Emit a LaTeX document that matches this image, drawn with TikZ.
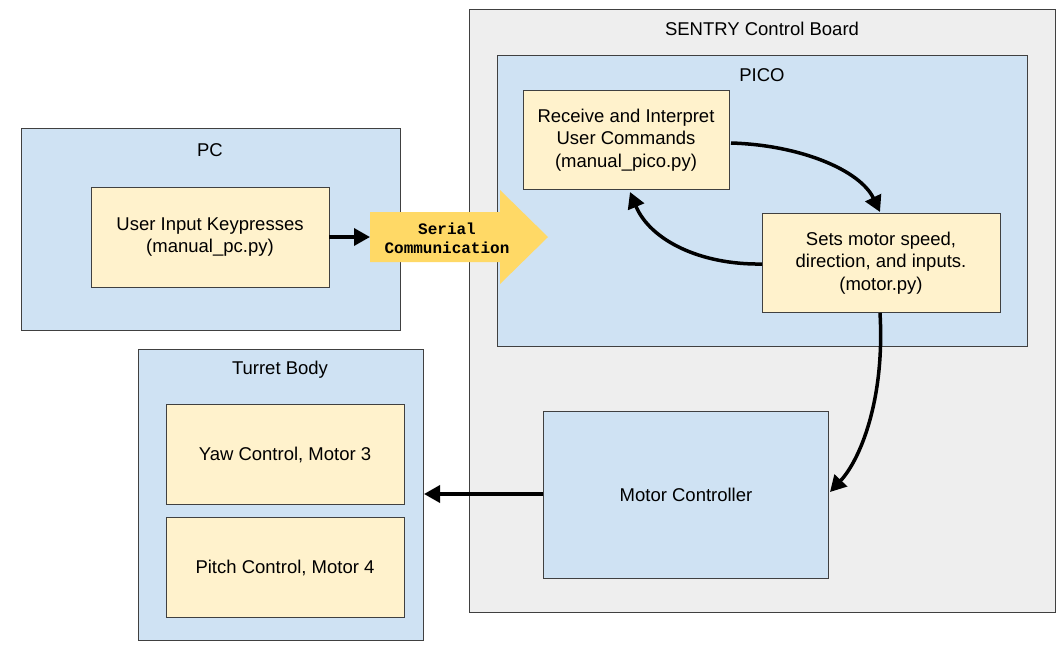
\documentclass[tikz,border=0pt]{standalone}
\usepackage{fontspec}
\setmainfont{Liberation Sans}
\newfontfamily\monofnt{Liberation Mono}
\usetikzlibrary{shapes.arrows,arrows.meta}
\definecolor{bluef}{HTML}{CFE2F3}
\definecolor{yelf}{HTML}{FFF2CC}
\definecolor{grayf}{HTML}{EEEEEE}
\definecolor{goldf}{HTML}{FFD966}
\begin{document}
\begin{tikzpicture}[x=1pt,y=-1pt,
  box/.style={draw=black!75,line width=1pt},
  lbl/.style={font=\fontsize{18.5}{22.5}\selectfont,align=center},
  arr/.style={line width=3.5pt,-{Triangle[length=16pt,width=17pt]}}]
\useasboundingbox (0,0) rectangle (1062,662);
\fill[white] (0,0) rectangle (1062,662);
\draw[box,fill=grayf] (469,9) rectangle (1055,612);
\node[lbl] at (762,29) {SENTRY Control Board};
\draw[box,fill=bluef] (497,55) rectangle (1027,346);
\node[lbl] at (762,75) {PICO};
\draw[box,fill=bluef] (21,128) rectangle (400,330);
\node[lbl] at (210,150) {PC};
\draw[box,fill=bluef] (138,349) rectangle (423,640);
\node[lbl] at (280,370) {Turret Body};
\draw[box,fill=yelf] (523,90) rectangle (729,189);
\node[lbl] (rcv) at (626,140) {Receive and Interpret\\User Commands\\(manual\_pico.py)};
\coordinate (rcvR) at (731,143);
\coordinate (rcvB) at (630,192);
\draw[box,fill=yelf] (762,213) rectangle (1000,312);
\node[lbl] (mot) at (881,263) {Sets motor speed,\\direction, and inputs.\\(motor.py)};
\coordinate (motT) at (880,212);
\coordinate (motL) at (762,264);
\coordinate (motB) at (880,313);
\draw[box,fill=bluef] (543,411) rectangle (828,578);
\node[lbl] (mc) at (686,495) {Motor Controller};
\coordinate (mcL) at (543,494);
\coordinate (mcR) at (830,492);
\draw[box,fill=yelf] (91,187) rectangle (329,287);
\node[lbl] (ui) at (210,237) {User Input Keypresses\\(manual\_pc.py)};
\coordinate (uiR) at (329,237);
\draw[box,fill=yelf] (166,404) rectangle (404,504);
\node[lbl] (yaw) at (285,455) {Yaw Control, Motor 3};
\draw[box,fill=yelf] (166,517) rectangle (404,617);
\node[lbl] (pitch) at (285,568) {Pitch Control, Motor 4};
\coordinate (turR) at (424,494);
\fill[goldf] (370,212) -- (500,212) -- (500,190) -- (548,237) -- (500,284) -- (500,262) -- (370,262) -- cycle;
\node[font=\monofnt\bfseries\fontsize{16}{19}\selectfont,align=center] (ser) at (447,238) {Serial\\Communication};
\coordinate (serL) at (370,237);
\draw[arr] (uiR) -- (serL);
\draw[arr] (rcvR) .. controls (800,145) and (860,170) .. (motT);
\draw[arr] (motL) .. controls (700,265) and (650,240) .. (rcvB);
\draw[arr] (motB) .. controls (885,400) and (860,460) .. (mcR);
\draw[arr] (mcL) -- (turR);
\end{tikzpicture}
\end{document}
